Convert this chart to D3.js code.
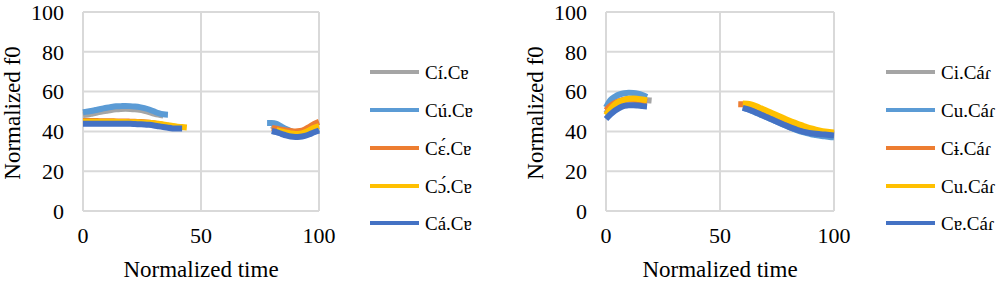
<!DOCTYPE html>
<html>
<head>
<meta charset="utf-8">
<script src="https://cdn.jsdelivr.net/npm/d3@7"></script>
<style>
  body { margin: 0; background: #fff; }
  text { font-family: "Liberation Serif", "Times New Roman", serif; fill: #000; }
</style>
</head>
<body>
<div id="chart"></div>
<script>
// normalized time categories (0..100, step 2)
const time = d3.range(0, 101, 2);
const yTicks = [0, 20, 40, 60, 80, 100];
const xTicks = [0, 50, 100];
const colors = ["#A5A5A5", "#5B9BD5", "#ED7D31", "#FFC000", "#4472C4"];

// left panel
const leftNames = ["Cí.Cɐ", "Cú.Cɐ", "Cɛ́.Cɐ", "Cɔ́.Cɐ", "Cá.Cɐ"];
const leftGray = [48.2, 48.5, 49.0, 49.5, 50.0, 50.4, 50.8, 51.1, 51.3, 51.4, 51.3, 51.1, 50.8, 50.3, 49.7, 49.0, 48.4, 48.0,
  ...Array(22).fill(null),
  43.0, 41.5, 40.2, 39.3, 38.8, 38.6, 38.7, 39.0, 39.6, 40.3, 41.0];
const leftLightBlue = [49.6, 50.0, 50.4, 50.9, 51.4, 51.9, 52.3, 52.6, 52.7, 52.8, 52.7, 52.5, 52.2, 51.7, 51.0, 50.1, 49.2, 48.6, 48.4,
  ...Array(20).fill(null),
  44.2, 44.2, 43.8, 42.5, 41.2, 40.2, 39.6, 39.4, 39.5, 39.9, 40.5, 41.2];
const leftOrange = [45.2, 45.2, 45.2, 45.2, 45.1, 45.1, 45.1, 45.0, 45.0, 45.0, 44.9, 44.8, 44.7, 44.6, 44.4, 44.1, 43.7, 43.2, 42.8, 42.4, 42.1, 41.9,
  ...Array(18).fill(null),
  41.8, 41.3, 40.9, 40.5, 40.2, 40.0, 40.2, 41.0, 42.3, 43.8, 44.8];
const leftYellow = [44.9, 44.9, 44.9, 44.9, 44.9, 44.8, 44.8, 44.8, 44.7, 44.7, 44.6, 44.6, 44.5, 44.4, 44.3, 44.1, 43.8, 43.5, 43.1, 42.7, 42.4, 42.2, 42.0,
  ...Array(18).fill(null),
  40.6, 40.0, 39.5, 39.0, 38.7, 38.8, 39.5, 40.6, 41.8, 42.6];
const leftBlue = [43.9, 43.9, 43.9, 43.9, 43.9, 43.9, 43.9, 43.9, 43.8, 43.8, 43.8, 43.7, 43.6, 43.5, 43.3, 43.0, 42.6, 42.2, 41.8, 41.5, 41.4, 41.4,
  ...Array(18).fill(null),
  40.2, 39.6, 38.8, 38.0, 37.4, 37.2, 37.3, 37.8, 38.6, 39.6, 40.4];

// right panel
const rightNames = ["Ci.Cáɾ", "Cu.Cáɾ", "Cɨ.Cáɾ", "Cu.Cáɾ", "Cɐ.Cáɾ"];
const rightGray = [49.0, 52.0, 54.0, 55.2, 56.0, 56.3, 56.3, 56.1, 55.9, 55.7, 55.5,
  ...Array(19).fill(null),
  53.0, 52.8, 52.0, 51.0, 50.0, 49.0, 48.0, 47.0, 46.0, 45.0, 44.0, 43.1, 42.3, 41.5, 40.8, 40.2, 39.7, 39.3, 39.0, 38.8, 38.6];
const rightLightBlue = [52.0, 55.8, 57.5, 58.6, 59.2, 59.4, 59.3, 58.9, 58.2, 57.3,
  ...Array(20).fill(null),
  52.0, 51.3, 50.3, 49.3, 48.3, 47.3, 46.3, 45.3, 44.3, 43.3, 42.3, 41.4, 40.5, 39.7, 39.1, 38.6, 38.2, 37.8, 37.5, 37.2, 37.0];
const rightOrange = [50.6, 52.8, 54.3, 55.2, 55.8, 56.0, 55.9, 55.6, 55.2, 54.8,
  ...Array(19).fill(null),
  53.7, 53.6, 53.2, 52.4, 51.4, 50.4, 49.4, 48.4, 47.4, 46.4, 45.4, 44.4, 43.5, 42.6, 41.8, 41.1, 40.5, 40.0, 39.6, 39.3, 39.0, 38.8];
const rightYellow = [48.3, 51.3, 53.6, 55.0, 55.9, 56.4, 56.5, 56.3, 56.0, 55.6,
  ...Array(20).fill(null),
  54.0, 53.9, 53.4, 52.6, 51.6, 50.6, 49.6, 48.6, 47.6, 46.6, 45.6, 44.7, 43.8, 43.0, 42.2, 41.5, 40.9, 40.4, 40.0, 39.7, 39.5];
const rightBlue = [46.2, 48.6, 50.5, 51.9, 52.8, 53.2, 53.2, 53.0, 52.7, 52.5,
  ...Array(20).fill(null),
  51.8, 51.2, 50.4, 49.4, 48.4, 47.4, 46.4, 45.4, 44.4, 43.4, 42.4, 41.5, 40.7, 40.0, 39.5, 39.1, 38.8, 38.6, 38.4, 38.2, 38.0];

const width = 1003;
const height = 283;

const svg = d3.select("#chart")
    .append("svg")
    .attr("width", width)
    .attr("height", height)
    .attr("viewBox", [0, 0, width, height]);

svg.append("rect").attr("width", width).attr("height", height).attr("fill", "#fff");

function drawPanel(opts, names, series) {
    const xScale = d3.scaleLinear().domain([0, 100]).range([opts.x0, opts.x1]);
    const yScale = d3.scaleLinear().domain([0, 100]).range([211, 12]);
    const g = svg.append("g");

    //gridlines
    g.selectAll(".hgrid")
        .data(yTicks)
        .enter()
        .append("line")
        .attr("x1", xScale(0))
        .attr("x2", xScale(100))
        .attr("y1", d => yScale(d))
        .attr("y2", d => yScale(d))
        .style("stroke", "#d9d9d9")
        .style("stroke-width", "2px");
    g.selectAll(".vgrid")
        .data(xTicks)
        .enter()
        .append("line")
        .attr("x1", d => xScale(d))
        .attr("x2", d => xScale(d))
        .attr("y1", yScale(0))
        .attr("y2", yScale(100))
        .style("stroke", "#d9d9d9")
        .style("stroke-width", "2px");

    //tick labels
    g.selectAll(".ylab")
        .data(yTicks)
        .enter()
        .append("text")
        .attr("x", xScale(0) - 19)
        .attr("y", d => yScale(d))
        .attr("dy", "0.35em")
        .attr("text-anchor", "end")
        .attr("font-size", "22px")
        .text(d => d);
    g.selectAll(".xlab")
        .data(xTicks)
        .enter()
        .append("text")
        .attr("x", d => xScale(d))
        .attr("y", 243)
        .attr("text-anchor", "middle")
        .attr("font-size", "22px")
        .text(d => d);

    //axis titles
    g.append("text")
        .attr("x", (xScale(0) + xScale(100)) / 2)
        .attr("y", 277)
        .attr("text-anchor", "middle")
        .attr("font-size", "23px")
        .text("Normalized time");
    g.append("text")
        .attr("transform", `translate(${opts.ytx}, 113) rotate(-90)`)
        .attr("text-anchor", "middle")
        .attr("font-size", "23px")
        .text("Normalized f0");

    //lines
    const line = d3.line()
        .defined(d => d[1] !== null)
        .x(d => xScale(d[0]))
        .y(d => yScale(d[1]))
        .curve(d3.curveMonotoneX);
    series.forEach((vals, i) => {
        g.append("path")
            .datum(time.map((t, j) => [t, vals[j]]))
            .attr("d", line)
            .attr("fill", "none")
            .style("stroke", colors[i])
            .style("stroke-width", "6px")
            .style("stroke-linecap", "butt")
            .style("stroke-linejoin", "round");
    });

    //legend
    const rowY = [72, 110, 148, 186, 223];
    names.forEach((name, i) => {
        g.append("line")
            .attr("x1", opts.lx)
            .attr("x2", opts.lx + 49)
            .attr("y1", rowY[i])
            .attr("y2", rowY[i])
            .style("stroke", colors[i])
            .style("stroke-width", "4px");
        g.append("text")
            .attr("x", opts.lx + 55)
            .attr("y", rowY[i])
            .attr("dy", "0.35em")
            .attr("font-size", "19px")
            .text(name);
    });
}

drawPanel({x0: 83, x1: 319, ytx: 20, lx: 370}, leftNames,
    [leftGray, leftLightBlue, leftOrange, leftYellow, leftBlue]);
drawPanel({x0: 606, x1: 834, ytx: 543, lx: 886}, rightNames,
    [rightGray, rightLightBlue, rightOrange, rightYellow, rightBlue]);
</script>
</body>
</html>
